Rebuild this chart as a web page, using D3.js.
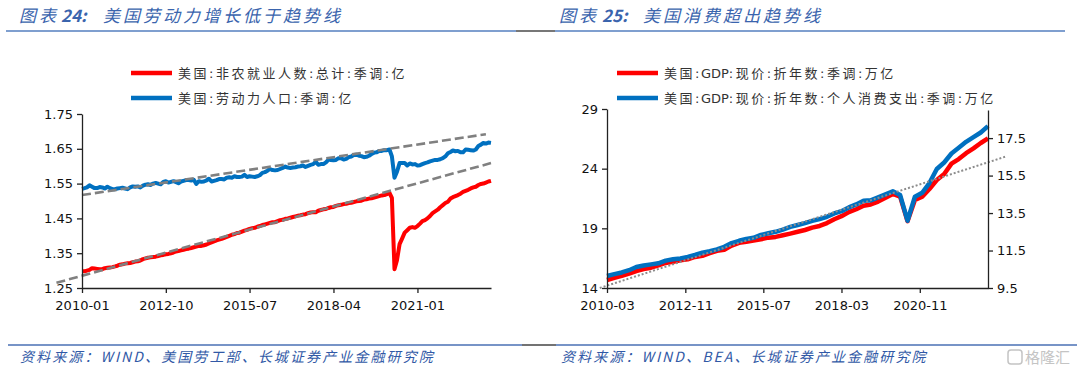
<!DOCTYPE html>
<html>
<head>
<meta charset="utf-8">
<script src="https://cdn.jsdelivr.net/npm/d3@7"></script>
<style>
  body { margin: 0; background: #fff; }
  svg { display: block; }
  .tick text { font-family: "DejaVu Sans", Verdana, sans-serif; font-size: 13px; fill: #111; }
  .legend { font-family: "DejaVu Sans", "Noto Sans CJK SC", sans-serif; font-size: 13px; fill: #333; letter-spacing: 2.5px; }
  .title { font-family: "Noto Sans CJK SC", sans-serif; font-size: 17px; font-style: italic; fill: #3a64ad; letter-spacing: 3px; }
  .foot { font-family: "Noto Sans CJK SC", sans-serif; font-size: 14px; font-style: italic; fill: #3159a6; letter-spacing: 2.1px; }
</style>
</head>
<body>
<div id="chart"></div>
<script>
// ---- left chart: monthly, 亿人 (2010-01 .. 2023-06)
const payrolls = [
  1.298,1.298,1.300,1.302,1.307,1.306,1.305,1.304,1.304,1.307,1.308,1.309,
  1.310,1.312,1.314,1.317,1.318,1.320,1.321,1.322,1.324,1.326,1.327,1.329,
  1.333,1.335,1.337,1.338,1.339,1.340,1.342,1.344,1.345,1.347,1.348,1.350,
  1.352,1.355,1.356,1.358,1.360,1.362,1.363,1.365,1.367,1.369,1.371,1.371,
  1.373,1.375,1.378,1.381,1.384,1.387,1.389,1.391,1.394,1.397,1.400,1.403,
  1.405,1.408,1.409,1.412,1.415,1.417,1.420,1.422,1.423,1.426,1.428,1.431,
  1.433,1.435,1.437,1.439,1.439,1.442,1.445,1.446,1.449,1.450,1.452,1.454,
  1.456,1.458,1.459,1.461,1.462,1.465,1.467,1.468,1.468,1.472,1.474,1.476,
  1.477,1.480,1.482,1.483,1.486,1.488,1.489,1.491,1.492,1.494,1.495,1.497,
  1.499,1.500,1.501,1.504,1.505,1.507,1.508,1.510,1.512,1.514,1.516,1.517,
  1.520,1.523,1.509,1.304,1.330,1.376,1.392,1.409,1.416,1.423,1.425,1.423,
  1.428,1.435,1.442,1.445,1.450,1.457,1.465,1.470,1.475,1.482,1.488,1.494,
  1.498,1.507,1.511,1.514,1.517,1.521,1.526,1.529,1.532,1.536,1.539,1.541,
  1.546,1.549,1.550,1.553,1.556,1.558
];
const laborForce = [
  1.535,1.537,1.539,1.545,1.541,1.537,1.537,1.540,1.539,1.536,1.541,1.537,
  1.534,1.534,1.536,1.537,1.538,1.536,1.534,1.539,1.542,1.541,1.542,1.539,
  1.544,1.547,1.548,1.546,1.550,1.552,1.550,1.548,1.555,1.557,1.553,1.555,
  1.557,1.554,1.551,1.556,1.558,1.560,1.560,1.559,1.561,1.549,1.557,1.555,
  1.556,1.559,1.564,1.556,1.558,1.560,1.563,1.563,1.562,1.567,1.568,1.567,
  1.571,1.569,1.569,1.570,1.575,1.569,1.571,1.570,1.569,1.571,1.574,1.581,
  1.583,1.587,1.592,1.589,1.588,1.589,1.592,1.595,1.599,1.596,1.595,1.596,
  1.597,1.599,1.600,1.602,1.598,1.601,1.604,1.606,1.613,1.604,1.606,1.606,
  1.611,1.619,1.618,1.617,1.618,1.623,1.623,1.619,1.621,1.626,1.628,1.632,
  1.633,1.630,1.629,1.626,1.627,1.630,1.635,1.639,1.640,1.644,1.644,1.646,
  1.646,1.648,1.628,1.567,1.584,1.609,1.609,1.609,1.602,1.608,1.605,1.606,
  1.602,1.603,1.606,1.609,1.611,1.614,1.616,1.618,1.618,1.620,1.623,1.628,
  1.637,1.641,1.645,1.643,1.644,1.640,1.640,1.648,1.647,1.646,1.645,1.648,
  1.658,1.662,1.667,1.665,1.668,1.667
];
const laborTrend = [["2010-01", 1.517], ["2023-04", 1.692]];
const payrollTrend = [["2009-03", 1.265], ["2023-06", 1.609]];
const leftXTicks = ["2010-01", "2012-10", "2015-07", "2018-04", "2021-01"];
const leftYTicks = [1.25, 1.35, 1.45, 1.55, 1.65, 1.75];

// ---- right chart: quarterly, 万亿 (2010Q1 .. 2023Q1)
const gdp = [
  14.67,14.86,15.02,15.20, 15.42,15.58,15.70,15.90, 16.10,16.20,16.32,16.40,
  16.60,16.70,16.92,17.12, 17.20,17.55,17.78,17.88, 17.98,18.08,18.22,18.28,
  18.42,18.56,18.71,18.86, 19.06,19.20,19.44,19.76, 20.02,20.36,20.60,20.90,
  21.00,21.24,21.56,21.88, 21.65,19.60,21.37,21.65, 22.30,23.05,23.55,24.42,
  24.80,25.30,25.70,26.15, 26.54
];
const pce = [
  10.14,10.24,10.33,10.45, 10.62,10.70,10.76,10.82, 10.96,11.03,11.08,11.16,
  11.26,11.38,11.46,11.56, 11.70,11.90,12.02,12.12, 12.18,12.33,12.42,12.50,
  12.62,12.76,12.86,12.96, 13.08,13.18,13.30,13.48, 13.60,13.80,13.96,14.16,
  14.18,14.34,14.50,14.66, 14.46,13.09,14.37,14.58, 15.10,15.85,16.20,16.68,
  16.98,17.30,17.55,17.80, 18.14
];
const gdpTrend = [["2009-12", 14.0], ["2023-10", 25.0]];
const rightXTicks = ["2010-03", "2012-11", "2015-07", "2018-03", "2020-11"];
const gdpTicks = [14, 19, 24, 29];
const pceTicks = [9.5, 11.5, 13.5, 15.5, 17.5];

const parse = d3.timeParse("%Y-%m");
const fmt = d3.timeFormat("%Y-%m");
const w = 1080, h = 373;

const svg = d3.select("#chart").append("svg").attr("width", w).attr("height", h);

function styleAxis(g) {
  g.select(".domain").attr("stroke", "#222").attr("stroke-width", 1.3);
  g.selectAll(".tick line").attr("stroke", "#222").attr("stroke-width", 1.3);
}

function drawLine(data, x, y, color, width, dash) {
  const p = svg.append("path")
    .datum(data)
    .attr("fill", "none")
    .attr("stroke", color)
    .attr("stroke-width", width)
    .attr("stroke-linejoin", "round")
    .attr("d", d3.line().x(d => x(d[0])).y(d => y(d[1])));
  if (dash) p.attr("stroke-dasharray", dash);
}

// ---------- titles & rules
function title(x0, x1, x2, num, text) {
  svg.append("text").attr("class", "title").attr("x", x0).attr("y", 22).text("图表");
  svg.append("text").attr("class", "title").attr("x", x1).attr("y", 22)
    .attr("font-family", "DejaVu Sans").attr("font-weight", "bold").attr("fill", "#1f3f8a")
    .style("letter-spacing", "0px").text(num + ":");
  svg.append("text").attr("class", "title").attr("x", x2).attr("y", 22).text(text);
}
title(19, 61, 103, "24", "美国劳动力增长低于趋势线");
title(559, 602, 643, "25", "美国消费超出趋势线");

svg.append("line").attr("x1", 6).attr("x2", 516).attr("y1", 31).attr("y2", 31).attr("stroke", "#7f9fcf").attr("stroke-width", 2);
svg.append("line").attr("x1", 516).attr("x2", 555).attr("y1", 31).attr("y2", 31).attr("stroke", "#777").attr("stroke-width", 2);
svg.append("line").attr("x1", 555).attr("x2", 1065).attr("y1", 31).attr("y2", 31).attr("stroke", "#7f9fcf").attr("stroke-width", 2);

svg.append("line").attr("x1", 8).attr("x2", 522).attr("y1", 345).attr("y2", 345).attr("stroke", "#4a70b5").attr("stroke-width", 1.5);
svg.append("line").attr("x1", 522).attr("x2", 556).attr("y1", 345).attr("y2", 345).attr("stroke", "#444").attr("stroke-width", 1.5);
svg.append("line").attr("x1", 556).attr("x2", 1077).attr("y1", 345).attr("y2", 345).attr("stroke", "#4a70b5").attr("stroke-width", 1.5);

svg.append("text").attr("class", "foot").attr("x", 20).attr("y", 362).text("资料来源：WIND、美国劳工部、长城证券产业金融研究院");
svg.append("text").attr("class", "foot").attr("x", 561).attr("y", 362).text("资料来源：WIND、BEA、长城证券产业金融研究院");

// watermark
svg.append("rect").attr("x", 1008).attr("y", 350).attr("width", 14).attr("height", 14).attr("rx", 3)
  .attr("fill", "none").attr("stroke", "#c4c4c4").attr("stroke-width", 1.5);
svg.append("text").attr("x", 1025).attr("y", 363).attr("font-family", "Noto Sans CJK SC").attr("font-size", 15)
  .attr("fill", "#c4c4c4").text("格隆汇");

// ---------- legends
function legend(x, y, color, parts) {
  svg.append("line").attr("x1", x).attr("x2", x + 41).attr("y1", y).attr("y2", y)
    .attr("stroke", color).attr("stroke-width", 4.5);
  const t = svg.append("text").attr("class", "legend").attr("x", x + 47).attr("y", y + 5);
  parts.split("GDP").forEach((s, i) => {
    if (i > 0) t.append("tspan").style("letter-spacing", "0px").attr("dx", -1).text("GDP");
    t.append("tspan").text(s);
  });
}
legend(131, 73, "#ff0000", "美国:非农就业人数:总计:季调:亿");
legend(131, 98, "#0070c0", "美国:劳动力人口:季调:亿");
legend(617, 73, "#ff0000", "美国:GDP:现价:折年数:季调:万亿");
legend(617, 98, "#0070c0", "美国:GDP:现价:折年数:个人消费支出:季调:万亿");

// ---------- left chart
const xL = d3.scaleTime().domain([parse("2010-01"), parse("2023-06")]).range([82, 491]);
const yL = d3.scaleLinear().domain([1.25, 1.75]).range([288, 114]);

const payData = payrolls.map((v, i) => [d3.timeMonth.offset(parse("2010-01"), i), v]);
const labData = laborForce.map((v, i) => [d3.timeMonth.offset(parse("2010-01"), i), v]);

drawLine(payData, xL, yL, "#ff0000", 4);
drawLine(labData, xL, yL, "#0070c0", 4);
drawLine(laborTrend.map(d => [parse(d[0]), d[1]]), xL, yL, "#808080", 2.6, "9,4");
drawLine(payrollTrend.map(d => [parse(d[0]), d[1]]), xL, yL, "#808080", 2.6, "9,4");

svg.append("g").attr("transform", "translate(0,288)")
  .call(d3.axisBottom(xL).tickValues(leftXTicks.map(parse)).tickFormat(fmt).tickSize(5).tickSizeOuter(0).tickPadding(8))
  .call(styleAxis);
svg.append("g").attr("transform", "translate(82,0)")
  .call(d3.axisLeft(yL).tickValues(leftYTicks).tickFormat(d3.format(".2f")).tickSize(5).tickSizeOuter(0).tickPadding(4))
  .call(styleAxis);

// ---------- right chart
const xR = d3.scaleTime().domain([parse("2010-03"), parse("2023-03")]).range([607, 988]);
const yR1 = d3.scaleLinear().domain([14, 29]).range([288, 109]);
const yR2 = d3.scaleLinear().domain([9.5, 19.0]).range([288, 110]);

const gdpData = gdp.map((v, i) => [d3.timeMonth.offset(parse("2010-03"), i * 3), v]);
const pceData = pce.map((v, i) => [d3.timeMonth.offset(parse("2010-03"), i * 3), v]);

drawLine(gdpData, xR, yR1, "#ff0000", 4.5);
drawLine(pceData, xR, yR2, "#0070c0", 4.5);
drawLine(gdpTrend.map(d => [parse(d[0]), d[1]]), xR, yR1, "#8c8c8c", 2, "2,2");

svg.append("g").attr("transform", "translate(0,288)")
  .call(d3.axisBottom(xR).tickValues(rightXTicks.map(parse)).tickFormat(fmt).tickSize(5).tickSizeOuter(0).tickPadding(8))
  .call(styleAxis);
svg.append("g").attr("transform", "translate(607,0)")
  .call(d3.axisLeft(yR1).tickValues(gdpTicks).tickFormat(d3.format("d")).tickSize(5).tickSizeOuter(0).tickPadding(4))
  .call(styleAxis);
svg.append("g").attr("transform", "translate(988,0)")
  .call(d3.axisRight(yR2).tickValues(pceTicks).tickFormat(d3.format(".1f")).tickSize(5).tickSizeOuter(0).tickPadding(4))
  .call(styleAxis);
</script>
</body>
</html>
